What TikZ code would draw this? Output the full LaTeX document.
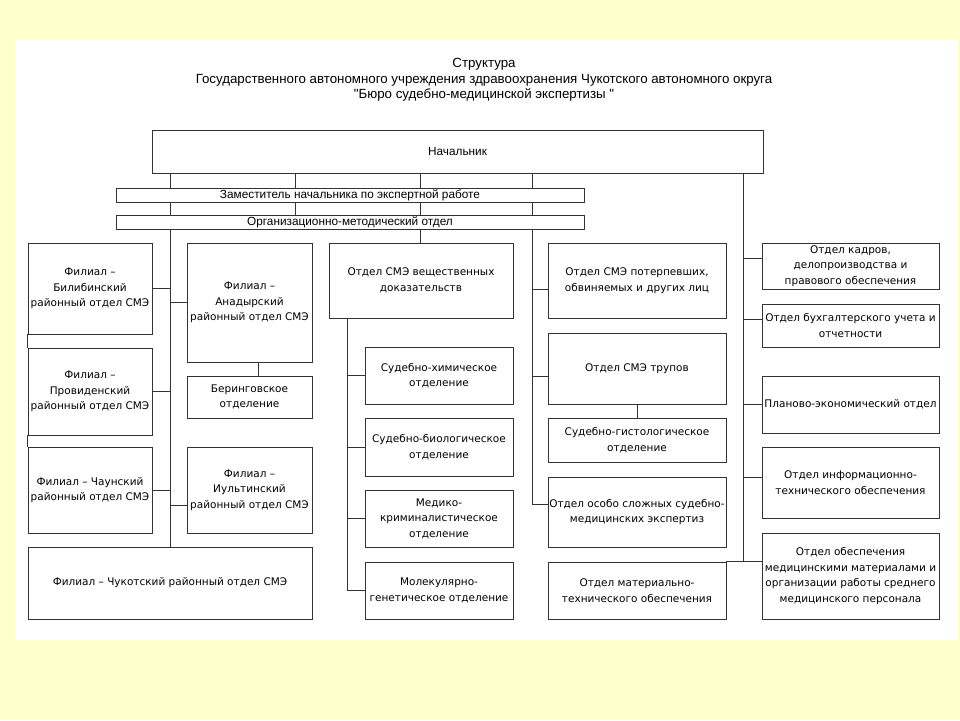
\documentclass[tikz,border=0pt]{standalone}
\usepackage{fontspec}
\setmainfont{DejaVu Sans}
\newfontfamily\titlefont{Liberation Sans}
\usetikzlibrary{calc}
\definecolor{bgyellow}{HTML}{FFFFCC}
\definecolor{linegray}{HTML}{333333}
\begin{document}
\begin{tikzpicture}[x=1pt,y=-1pt,
  box/.style={draw=linegray, line width=0.8pt, fill=white, align=center, inner sep=0pt,
    font=\fontsize{10.5}{15.5}\selectfont},
  narrowbox/.style={box, font=\titlefont\fontsize{11.8}{14}\selectfont},
  wh/.style 2 args={minimum width=#1pt, minimum height=#2pt},
  conn/.style={draw=linegray, line width=0.8pt},
  titletext/.style={align=center, inner sep=0pt, font=\titlefont\fontsize{13.3}{15.5}\selectfont}]
\fill[bgyellow] (0,0) rectangle (960,720);
\fill[white] (15,40) rectangle (958,640);
\useasboundingbox (0,0) rectangle (960,720);

\node[titletext] (title) at (484,80) {Структура\\Государственного автономного учреждения здравоохранения Чукотского автономного округа\\"Бюро судебно-медицинской экспертизы "};

% top
\node[narrowbox, wh={611}{43}] (nach) at (457.5,151.5) {Начальник};
\node[narrowbox, wh={468}{14}] (zam) at (350,195) {Заместитель начальника по экспертной работе};
\node[narrowbox, wh={468}{14}] (org) at (350,222) {Организационно-методический отдел};

% left column
\node[box, wh={124}{91}] (bilib) at (90,288.5) {Филиал –\\Билибинский\\районный отдел СМЭ};
\node[box, wh={124}{87}] (prov) at (90,391.5) {Филиал –\\Провиденский\\районный отдел СМЭ};
\node[box, wh={124}{86}] (chaun) at (90,490) {Филиал – Чаунский\\районный отдел СМЭ};
\node[box, wh={284}{72}] (chuk) at (170,583) {Филиал – Чукотский районный отдел СМЭ};
\node[box, wh={125}{119}] (anad) at (249.5,302.5) {Филиал –\\Анадырский\\районный отдел СМЭ};
\node[box, wh={125}{42}] (bering) at (249.5,397) {Беринговское\\отделение};
\node[box, wh={125}{86}] (iult) at (249.5,490) {Филиал –\\Иультинский\\районный отдел СМЭ};

% middle
\node[box, wh={184}{75}] (vesh) at (421,280.5) {Отдел СМЭ вещественных\\доказательств};
\node[box, wh={148}{57}] (khim) at (439,375.5) {Судебно-химическое\\отделение};
\node[box, wh={148}{58}] (biol) at (439,447) {Судебно-биологическое\\отделение};
\node[box, wh={148}{57}] (krim) at (439,518.5) {Медико-\\криминалистическое\\отделение};
\node[box, wh={148}{57}] (molek) at (439,590.5) {Молекулярно-\\генетическое отделение};

\node[box, wh={178}{75}] (poterp) at (637,280.5) {Отдел СМЭ потерпевших,\\обвиняемых и других лиц};
\node[box, wh={178}{71}] (trup) at (637,368.5) {Отдел СМЭ трупов};
\node[box, wh={178}{44}] (gist) at (637,440) {Судебно-гистологическое\\отделение};
\node[box, wh={178}{70}] (osobo) at (637,512) {Отдел особо сложных судебно-\\медицинских экспертиз};
\node[box, wh={178}{57}] (mater) at (637,590.5) {Отдел материально-\\технического обеспечения};

% right
\node[box, wh={177}{46}] (kadr) at (850.5,266) {Отдел кадров,\\делопроизводства и\\правового обеспечения};
\node[box, wh={177}{43}] (bukh) at (850.5,325.5) {Отдел бухгалтерского учета и\\отчетности};
\node[box, wh={177}{57}] (plan) at (850.5,404.5) {Планово-экономический отдел};
\node[box, wh={177}{71}] (inform) at (850.5,482.5) {Отдел информационно-\\технического обеспечения};
\node[box, wh={177}{86}] (obesp) at (850.5,576) {Отдел обеспечения\\медицинскими материалами и\\организации работы среднего\\медицинского персонала};

% trunk x positions
\path (170,0) coordinate (x1) (295,0) coordinate (x2) (420,0) coordinate (x3)
      (532,0) coordinate (x4) (743,0) coordinate (x5);

% trunks from the head
\draw[conn] (nach.south -| x1) -- (zam.north -| x1) (zam.south -| x1) -- (org.north -| x1)
            (org.south -| x1) -- (chuk.north -| x1);
\draw[conn] (nach.south -| x2) -- (zam.north -| x2) (zam.south -| x2) -- (org.north -| x2);
\draw[conn] (nach.south -| x3) -- (zam.north -| x3) (zam.south -| x3) -- (org.north -| x3)
            (org.south -| x3) -- (vesh.north -| x3);
\draw[conn] (nach.south -| x4) -- (zam.north -| x4) (zam.south -| x4) -- (org.north -| x4);
\draw[conn] (org.south -| x4) |- ($(osobo.west)+(0,-8)$);
\draw[conn] (nach.south -| x5) -- (x5 |- mater.north east);
\draw[conn] (mater.north east) -- (mater.north east -| obesp.west);

% left branches
\draw[conn] (bilib.east) -- (bilib.east -| x1);
\draw[conn] (anad.west) -- (anad.west -| x1);
\draw[conn] (prov.east) -- (prov.east -| x1);
\draw[conn] (chaun.east) -- (chaun.east -| x1);
\draw[conn] ($(iult.west)+(0,15)$) coordinate (iw) -- (iw -| x1);
\draw[conn] (bilib.south west) -- (prov.north west);
\draw[conn] (prov.south west) -- (chaun.north west);
\draw[conn] ($(anad.south)+(8.5,0)$) coordinate (ab) -- (ab |- bering.north);

% evidence department
\draw[conn] ($(vesh.south west)+(19,0)$) coordinate (vs) -- (vs |- molek.west) -- (molek.west);
\draw[conn] (khim.west) -- (khim.west -| vs);
\draw[conn] (biol.west) -- (biol.west -| vs);
\draw[conn] (krim.west) -- (krim.west -| vs);

% x4 branches
\draw[conn] ($(poterp.west)+(0,8.5)$) coordinate (pw) -- (pw -| x4);
\draw[conn] ($(trup.west)+(0,7.5)$) coordinate (tw) -- (tw -| x4);
\draw[conn] (trup.south) -- (gist.north);

% right branches
\draw[conn] ($(kadr.west)+(0,-8)$) coordinate (kw) -- (kw -| x5);
\draw[conn] ($(bukh.west)+(0,-6.5)$) coordinate (bw) -- (bw -| x5);
\draw[conn] (plan.west) -- (plan.west -| x5);
\draw[conn] ($(inform.west)+(0,-5.5)$) coordinate (inw) -- (inw -| x5);
\end{tikzpicture}
\end{document}
